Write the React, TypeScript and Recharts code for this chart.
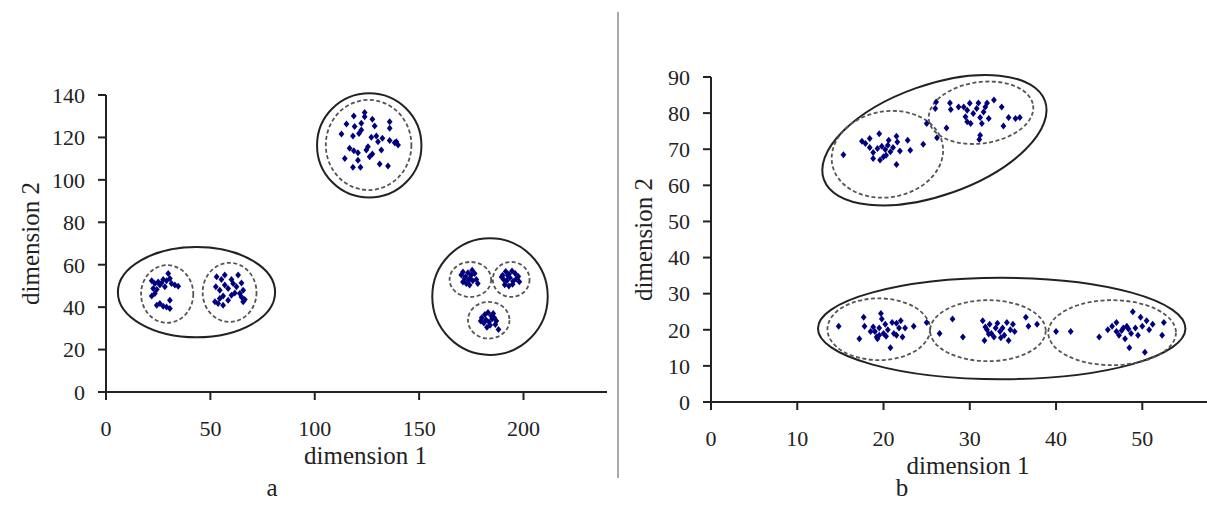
import React from "react";
import { ScatterChart, Scatter, XAxis, YAxis, ReferenceArea } from "recharts";

type Pt = [number, number];

// ---- panel a ----
const aTicksX = [0, 50, 100, 150, 200];
const aTicksY = [0, 20, 40, 60, 80, 100, 120, 140];

const aLeft1: Pt[] = [
  [21.9, 52.4], [23.4, 51.2], [25.0, 51.9], [25.8, 50.4], [27.4, 53.0], [29.0, 52.4],
  [29.8, 55.9], [30.6, 53.5], [31.4, 51.2], [33.0, 50.4], [34.6, 49.9], [22.6, 48.8],
  [24.3, 48.3], [21.9, 45.2], [23.4, 46.4], [24.3, 40.9], [25.8, 41.7], [27.4, 40.4],
  [29.0, 40.1], [30.6, 43.3], [30.6, 39.4], [26.6, 51.4], [28.2, 49.6],
];
const aLeft2: Pt[] = [
  [53.0, 54.3], [55.3, 53.0], [56.9, 55.1], [60.1, 53.0], [63.3, 55.1], [52.6, 49.6],
  [54.5, 48.0], [56.9, 50.4], [58.5, 48.8], [60.9, 51.2], [62.5, 49.6], [64.9, 51.4],
  [65.7, 48.0], [52.2, 42.5], [54.5, 44.1], [56.1, 45.2], [58.5, 43.3], [60.1, 45.6],
  [56.1, 40.9], [53.7, 41.7], [64.9, 44.8], [65.7, 42.5], [66.5, 43.6], [64.1, 46.4],
  [61.7, 46.7],
];
const aTop: Pt[] = [
  [118.7, 130.1], [123.9, 131.7], [123.9, 129.8], [127.6, 128.6], [135.9, 127.4], [135.9, 124.3],
  [115.2, 126.3], [119.1, 125.1], [122.3, 126.7], [122.3, 123.5], [128.7, 125.4], [112.8, 121.6],
  [118.3, 120.7], [121.2, 121.9], [127.1, 120.1], [129.5, 120.7], [132.4, 119.6], [130.3, 118.0],
  [135.9, 118.5], [138.3, 117.5], [139.9, 116.4], [139.1, 118.0], [116.7, 114.9], [118.7, 113.7],
  [120.7, 112.8], [124.7, 114.1], [127.6, 112.2], [131.9, 114.1], [114.4, 110.1], [120.7, 109.3],
  [126.3, 110.9], [118.3, 105.9], [121.9, 105.9], [131.1, 107.5], [135.1, 106.5], [125.5, 115.6],
];
const aRight1: Pt[] = [
  [170.2, 55.1], [171.0, 56.6], [172.2, 54.3], [173.4, 56.2], [174.2, 53.5], [175.0, 55.1],
  [175.7, 52.4], [171.0, 51.9], [172.6, 51.2], [173.8, 52.7], [176.6, 55.9], [177.4, 53.0],
  [178.1, 51.2], [171.8, 53.5], [175.4, 57.4], [174.2, 50.4],
];
const aRight2: Pt[] = [
  [190.0, 55.0], [191.5, 56.8], [193.0, 55.5], [194.5, 57.0], [196.0, 55.8], [197.5, 54.5],
  [190.5, 53.0], [192.0, 52.5], [193.5, 53.8], [195.0, 52.2], [196.5, 53.3], [198.0, 52.0],
  [191.0, 50.5], [193.0, 50.0], [194.8, 50.8], [189.5, 54.2], [192.5, 54.8],
];
const aRight3: Pt[] = [
  [180.0, 35.0], [181.5, 36.5], [183.0, 37.5], [184.5, 36.0], [186.0, 35.0], [182.0, 34.0],
  [183.5, 33.0], [185.0, 34.5], [187.0, 33.5], [181.0, 32.5], [184.0, 31.5], [186.5, 31.8],
  [182.5, 30.5], [188.0, 29.5], [185.5, 37.0], [179.5, 33.5],
];

// cluster outlines: bounding box in data units
type Ring = { x1: number; x2: number; y1: number; y2: number; dashed: boolean; angle?: number };
const aRings: Ring[] = [
  { x1: 5.7, x2: 81.0, y1: 25.8, y2: 68.3, dashed: false },
  { x1: 16.8, x2: 41.8, y1: 32.6, y2: 59.8, dashed: true },
  { x1: 46.3, x2: 72.1, y1: 33.0, y2: 60.9, dashed: true },
  { x1: 101.1, x2: 151.1, y1: 91.7, y2: 140.8, dashed: false },
  { x1: 105.3, x2: 146.3, y1: 95.2, y2: 137.7, dashed: true },
  { x1: 156.3, x2: 211.6, y1: 17.5, y2: 72.5, dashed: false },
  { x1: 164.6, x2: 184.5, y1: 44.8, y2: 61.3, dashed: true },
  { x1: 185.3, x2: 202.9, y1: 44.8, y2: 61.3, dashed: true },
  { x1: 173.4, x2: 193.3, y1: 25.2, y2: 42.5, dashed: true },
];

// ---- panel b ----
const bTicksX = [0, 10, 20, 30, 40, 50];
const bTicksY = [0, 10, 20, 30, 40, 50, 60, 70, 80, 90];

const bLow1: Pt[] = [
  [14.8, 21], [17.2, 17.5], [17.7, 23.5], [17.8, 21], [18.5, 19.5], [19.2, 18], [19.3, 17.5],
  [19.5, 18.5], [19.7, 24.5], [19.8, 23], [19.5, 20.5], [20, 19], [20.2, 21.5], [20.5, 20],
  [20.8, 15], [21, 22], [21.2, 19], [21.5, 18.5], [21.8, 20.5], [22, 22.5], [22.2, 18],
  [22.5, 20.5], [23.5, 21], [25, 22], [19, 19.5], [20.3, 18.2], [21.5, 21.8], [18.8, 20.8],
];
const bLow2: Pt[] = [
  [26.5, 19], [28, 23], [29.2, 18], [31.5, 22.5], [31.7, 17], [32, 20], [32.3, 21.5],
  [32.5, 19], [32.8, 18], [33, 20.5], [33.2, 21.8], [33.5, 19.5], [33.8, 20.5], [34, 18.5],
  [34.3, 22], [34.5, 17], [34.7, 20], [35, 21.5], [35.2, 19.5], [36.5, 23.5], [36.8, 21],
  [37.8, 21.5], [32.2, 18.8], [33.6, 17.8], [31.8, 20.8],
];
const bLow3: Pt[] = [
  [40, 19.5], [41.7, 19.5], [45, 18], [46, 20], [46.5, 21], [47, 19.5], [47, 22],
  [47.3, 18.5], [47.8, 20.5], [48, 17.5], [48.2, 21], [48.5, 15], [48.7, 19], [48.9, 25],
  [49.2, 20.5], [49.5, 18.5], [49.8, 23.5], [50, 21], [50.3, 13.8], [50.5, 22.5], [50.8, 20],
  [51.2, 21.5], [52.3, 18.5], [52.5, 22], [47.6, 19.8], [48.4, 20.2],
];
const bHigh1: Pt[] = [
  [15.35, 68.5], [17.5, 72.2], [17.9, 71.6], [18.4, 70.5], [18.8, 69.1], [18.8, 67.4],
  [19.5, 74.3], [19.6, 67], [19.8, 70.8], [20.2, 69.9], [20.3, 68.3], [20.5, 71.1],
  [20.8, 69.3], [21.1, 70.5], [21.5, 65.8], [21.5, 73.6], [21.6, 72], [21.9, 69.5],
  [22.8, 72.5], [23.1, 69.7], [24.6, 71.4], [25.0, 77.1], [26.2, 73.2], [27.3, 75.9],
  [19.3, 70.2], [20.6, 72.5], [20.0, 67.9], [18.4, 73.0],
];
const bHigh2: Pt[] = [
  [26.1, 83.1], [26.0, 81.3], [27.7, 82.8], [27.8, 81], [28.7, 81.7], [29.3, 81.7],
  [29.7, 80.8], [30.0, 82.7], [30.4, 79.9], [30.8, 81.3], [31.0, 82.8], [29.5, 79],
  [29.7, 77.6], [30.1, 77.1], [31.2, 78.8], [31.4, 77.1], [31.6, 80.3], [32.0, 82.8],
  [32.8, 83.6], [31.2, 73.9], [31.1, 72.7], [33.7, 81.7], [33.9, 76.4], [34.5, 78.8],
  [35.3, 78.5], [35.8, 78.8], [32.2, 78.5], [31.8, 81.7],
];

const bRings: Ring[] = [
  { x1: 12.3, x2: 39.5, y1: 57.2, y2: 87.8, dashed: false, angle: -19.5 },
  { x1: 13.95, x2: 26.95, y1: 56.7, y2: 80.5, dashed: true, angle: -10 },
  { x1: 25.2, x2: 37.4, y1: 71.6, y2: 88.6, dashed: true, angle: -8 },
  { x1: 12.4, x2: 55.0, y1: 6.3, y2: 34.4, dashed: false },
  { x1: 13.5, x2: 25.4, y1: 11.6, y2: 28.7, dashed: true },
  { x1: 25.4, x2: 38.8, y1: 11.3, y2: 28.2, dashed: true },
  { x1: 39.1, x2: 53.9, y1: 10.2, y2: 28.2, dashed: true },
];

const FONT = '"Liberation Serif", "Times New Roman", serif';
const INK = "#222";
const tickStyle = { fontSize: 22, fill: INK, fontFamily: FONT };
const titleStyle = { fontSize: 25, fill: INK, fontFamily: FONT };

const toRows = (pts: Pt[]) => pts.map(([x, y]) => ({ x, y }));

function Diamond({ cx, cy }: any) {
  if (cx == null || cy == null) return null;
  return (
    <path
      d={`M${cx},${cy - 3.5}L${cx + 2.9},${cy}L${cx},${cy + 3.5}L${cx - 2.9},${cy}Z`}
      fill="#00007f"
    />
  );
}

function Ellipse(props: any) {
  const { x, y, width, height, dashed, angle = 0 } = props;
  const cx = x + width / 2;
  const cy = y + height / 2;
  return (
    <ellipse
      cx={cx}
      cy={cy}
      rx={Math.abs(width) / 2}
      ry={Math.abs(height) / 2}
      transform={`rotate(${angle} ${cx} ${cy})`}
      fill="none"
      stroke={dashed ? "#555" : INK}
      strokeWidth={dashed ? 1.8 : 2}
      strokeDasharray={dashed ? "4 2.5" : undefined}
    />
  );
}

function Panel({
  width, height, margin, xDomain, yDomain, xTicks, yTicks, yAxisWidth, yLabelOffset, clusters, rings,
}: any) {
  return (
    <ScatterChart width={width} height={height} margin={margin}>
      <XAxis
        type="number"
        dataKey="x"
        domain={xDomain}
        ticks={xTicks}
        allowDataOverflow
        height={80}
        tick={tickStyle}
        tickSize={8}
        tickMargin={20}
        axisLine={{ stroke: INK, strokeWidth: 2 }}
        tickLine={{ stroke: INK, strokeWidth: 2 }}
        label={{ value: "dimension 1", position: "insideBottom", offset: 8.5, dx: 9, style: titleStyle }}
      />
      <YAxis
        type="number"
        dataKey="y"
        domain={yDomain}
        ticks={yTicks}
        allowDataOverflow
        width={yAxisWidth}
        tick={tickStyle}
        tickSize={8}
        tickMargin={13}
        axisLine={{ stroke: INK, strokeWidth: 2 }}
        tickLine={{ stroke: INK, strokeWidth: 2 }}
        label={{
          value: "dimension 2",
          angle: -90,
          position: "insideLeft",
          offset: yLabelOffset,
          style: { ...titleStyle, textAnchor: "middle" },
        }}
      />
      {rings.map((r: Ring, i: number) => (
        <ReferenceArea
          key={i}
          x1={r.x1}
          x2={r.x2}
          y1={r.y1}
          y2={r.y2}
          ifOverflow="visible"
          shape={(p: any) => <Ellipse {...p} dashed={r.dashed} angle={r.angle} />}
        />
      ))}
      {clusters.map((c: Pt[], i: number) => (
        <Scatter key={i} data={toRows(c)} shape={<Diamond />} isAnimationActive={false} />
      ))}
    </ScatterChart>
  );
}

export default function App() {
  return (
    <div
      style={{
        position: "absolute",
        left: 0,
        top: 0,
        width: 1207,
        height: 505,
        background: "#fff",
        overflow: "hidden",
        fontFamily: FONT,
      }}
    >
      <div style={{ position: "absolute", left: 0, top: 0 }}>
        <Panel
          width={620}
          height={480}
          margin={{ top: 95, right: 13, bottom: 8, left: 10 }}
          xDomain={[0, 240]}
          yDomain={[0, 140]}
          xTicks={aTicksX}
          yTicks={aTicksY}
          yAxisWidth={96}
          yLabelOffset={20}
          clusters={[aLeft1, aLeft2, aTop, aRight1, aRight2, aRight3]}
          rings={aRings}
        />
      </div>
      <div style={{ position: "absolute", left: 620, top: 0 }}>
        <Panel
          width={587}
          height={505}
          margin={{ top: 77, right: 0, bottom: 23, left: 0 }}
          xDomain={[0, 57.5]}
          yDomain={[0, 90]}
          xTicks={bTicksX}
          yTicks={bTicksY}
          yAxisWidth={91}
          yLabelOffset={23}
          clusters={[bLow1, bLow2, bLow3, bHigh1, bHigh2]}
          rings={bRings}
        />
      </div>
      <div style={{ position: "absolute", left: 617, top: 12, width: 2, height: 466, background: "#aaa" }} />
      <div style={{ position: "absolute", left: 260, top: 474, width: 24, textAlign: "center", fontSize: 25, color: INK }}>
        a
      </div>
      <div style={{ position: "absolute", left: 890, top: 474, width: 24, textAlign: "center", fontSize: 25, color: INK }}>
        b
      </div>
    </div>
  );
}
